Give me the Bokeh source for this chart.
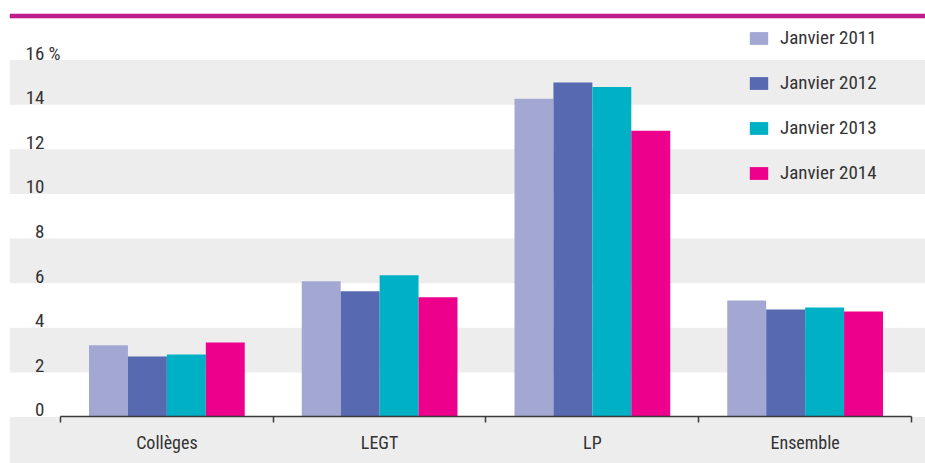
from bokeh.plotting import figure
from bokeh.models import (Range1d, BoxAnnotation, LinearAxis, FixedTicker, Legend,
                          LegendItem, ColumnDataSource)
from bokeh.core.properties import value
from bokeh.embed import file_html
from bokeh.resources import INLINE

# ---------------- data ----------------
categories = ["Collèges", "LEGT", "LP", "Ensemble"]
series_names = ["Janvier 2011", "Janvier 2012", "Janvier 2013", "Janvier 2014"]
jan2011 = [3.22, 6.09, 14.27, 5.22]
jan2012 = [2.71, 5.64, 15.00, 4.82]
jan2013 = [2.80, 6.36, 14.80, 4.91]
jan2014 = [3.34, 5.37, 12.83, 4.73]
y_tick_values = [0, 2, 4, 6, 8, 10, 12, 14, 16]
y_tick_labels = ["0", "2", "4", "6", "8", "10", "12", "14", "16 %"]

# ---------------- styles ----------------
colors = ["#A3A8D3", "#5769B0", "#00B1C5", "#EC008C"]
FONT = "'Liberation Sans Narrow', 'Roboto Condensed', 'Arial Narrow', Roboto, sans-serif"
TEXT_COLOR = "#333333"
BAND_COLOR = "#EDEDED"

n_cat = len(categories)
x_start, x_end = -0.2397, n_cat + 0.0658
y_start, y_end = -2.085, 18.09

p = figure(width=925, height=463, x_range=Range1d(x_start, x_end),
           y_range=Range1d(y_start, y_end), x_axis_location=None,
           y_axis_location=None, toolbar_location=None, output_backend="svg",
           min_border_left=9, min_border_right=0, min_border_top=13,
           min_border_bottom=0, outline_line_color=None,
           background_fill_color="white", border_fill_color="white")
p.grid.visible = False

# alternating background bands (every other 2-unit interval)
p.add_layout(BoxAnnotation(top=0, bottom=None, fill_color=BAND_COLOR, fill_alpha=1,
                           line_color=None, level="underlay"))
for b in y_tick_values[1::2]:
    p.add_layout(BoxAnnotation(bottom=b, top=b + 2, fill_color=BAND_COLOR, fill_alpha=1,
                               line_color=None, level="underlay"))

# top rule
p.add_layout(BoxAnnotation(bottom=17.89, top=None, fill_color="#BE1E8D", fill_alpha=1,
                           line_color=None, level="overlay"))
p.add_layout(BoxAnnotation(bottom=17.85, top=17.89, fill_color="#EBAAD3", fill_alpha=1,
                           line_color=None, level="overlay"))

# bars
bar_w = 0.183
all_vals = [jan2011, jan2012, jan2013, jan2014]
renderers = []
for k, (vals, col) in enumerate(zip(all_vals, colors)):
    off = (k - 1.5) * bar_w
    src = ColumnDataSource(dict(x=[i + 0.5 + off for i in range(n_cat)], top=vals,
                                cat=categories))
    r = p.vbar(x="x", top="top", bottom=0, width=bar_w, source=src,
               fill_color=col, line_color=None)
    renderers.append(r)

# x axis: boundary ticks
ax_ticks = LinearAxis(ticker=FixedTicker(ticks=list(range(n_cat + 1))), fixed_location=0,
                      bounds=(0, n_cat), major_tick_in=0, major_tick_out=6,
                      minor_tick_line_color=None, major_label_text_color=None,
                      axis_line_color="#3A3A3A", axis_line_width=1.5,
                      major_tick_line_color="#3A3A3A", major_tick_line_width=1.5)
p.add_layout(ax_ticks, "below")

# x axis: category labels
ax_labels = LinearAxis(ticker=FixedTicker(ticks=[i + 0.5 for i in range(n_cat)]),
                       fixed_location=0,
                       major_label_overrides={i + 0.5: c for i, c in enumerate(categories)},
                       axis_line_color=None, major_tick_line_color=None,
                       minor_tick_line_color=None, major_tick_in=0, major_tick_out=0,
                       major_label_standoff=15,
                       major_label_text_font=FONT, major_label_text_font_size="18px",
                       major_label_text_color=TEXT_COLOR)
p.add_layout(ax_labels, "below")

# y tick labels
ysrc = ColumnDataSource(dict(
    x=[x_start] * len(y_tick_values), y=y_tick_values, text=y_tick_labels,
    align=["right"] * (len(y_tick_values) - 1) + ["left"],
    xoff=[35] * (len(y_tick_values) - 1) + [16]))
p.text(x="x", y="y", text="text", source=ysrc, text_align="align", x_offset="xoff",
       y_offset=-7, text_baseline="middle", text_font=value(FONT),
       text_font_size="19px", text_color=TEXT_COLOR)

# legend
legend = Legend(items=[LegendItem(label=s, renderers=[r]) for s, r in zip(series_names, renderers)],
                location=(738, 279), orientation="vertical", glyph_width=23, glyph_height=16,
                label_height=22, label_standoff=10, spacing=22, padding=0, margin=0,
                border_line_color=None, background_fill_alpha=0,
                label_text_font=FONT, label_text_font_size="19px",
                label_text_color=TEXT_COLOR, label_text_baseline="middle")
p.add_layout(legend)

open("out.html", "w").write(file_html(p, INLINE))
